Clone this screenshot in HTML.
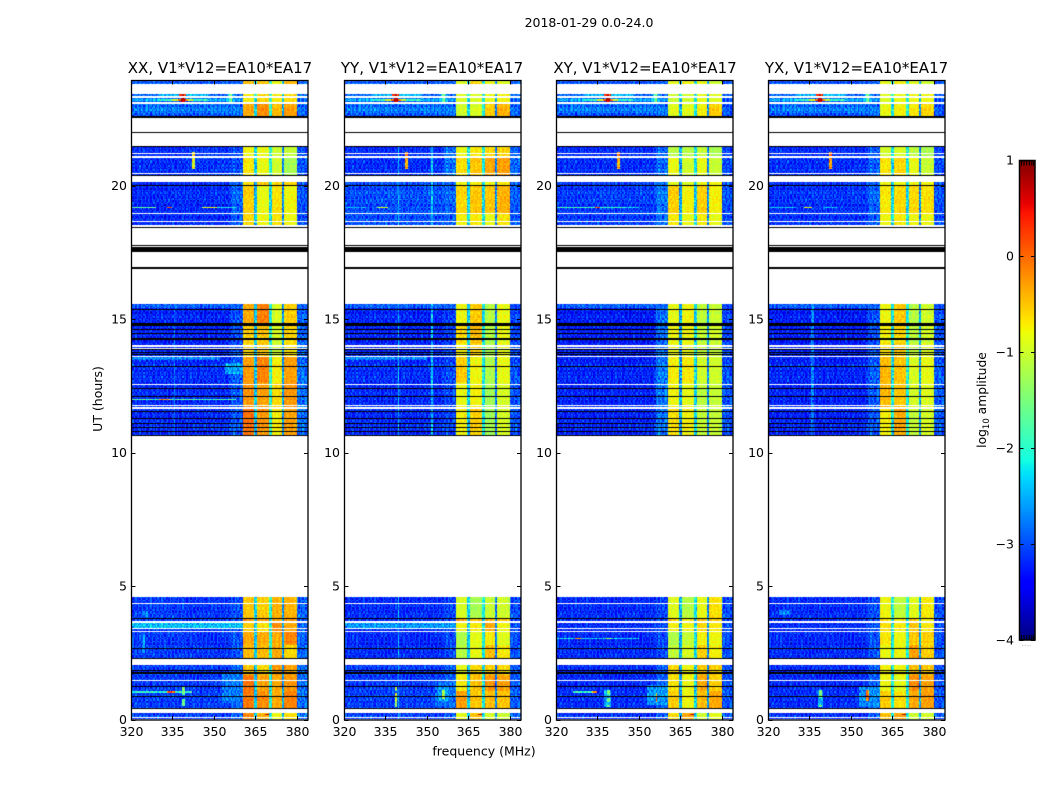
<!DOCTYPE html>
<html>
<head>
<meta charset="utf-8">
<title>2018-01-29 0.0-24.0</title>
<style>
html,body{margin:0;padding:0;background:#fff;width:1050px;height:800px;overflow:hidden}
canvas{position:absolute;display:block}
svg{position:absolute;left:0;top:0}
text{font-family:"DejaVu Sans",sans-serif;fill:#000}
</style>
</head>
<body>
<canvas id="c0" width="177" height="640" style="left:131px;top:80px"></canvas>
<canvas id="c1" width="177" height="640" style="left:344px;top:80px"></canvas>
<canvas id="c2" width="177" height="640" style="left:556px;top:80px"></canvas>
<canvas id="c3" width="177" height="640" style="left:768px;top:80px"></canvas>
<canvas id="cb" width="16" height="480" style="left:1019px;top:160px"></canvas>
<svg id="chart" width="1050" height="800" viewBox="0 0 1050 800">
  <text x="589" y="27" text-anchor="middle" font-size="12.5">2018-01-29 0.0-24.0</text>
  <text x="484" y="755.5" text-anchor="middle" font-size="12.5">frequency (MHz)</text>
  <text transform="translate(102,399) rotate(-90)" text-anchor="middle" font-size="12.5">UT (hours)</text>
  <text transform="translate(986,400) rotate(-90)" text-anchor="middle" font-size="12.3">log<tspan font-size="8.5" dy="3">10</tspan><tspan dy="-3"> amplitude</tspan></text>
  <text x="1026.5" y="646" text-anchor="middle" font-size="5" style="fill:#777">......</text>
</svg>
<script>
// ---------- chart data ----------
const panelTitles = ['XX, V1*V12=EA10*EA17','YY, V1*V12=EA10*EA17','XY, V1*V12=EA10*EA17','YX, V1*V12=EA10*EA17'];
const xTicks = [320,335,350,365,380];
const yTicks = [0,5,10,15,20];
const colorTicks = [1,0,-1,-2,-3,-4];
const colorMinorOffsets = [2,4.5,7.2,10,12.3,14];

// Frequency column edges (MHz): low 0,1,2 | band1 | notch1 | band2 | notch2 | band3 | notch3 | band4 | edge
const freqEdges = [320,340,356,360.4,364.75,365.7,369.9,370.8,374.75,375.7,379.8,384];
// Time blocks (upper UT) for low-band and notch level tables
const blockEnds = [2.1,5,13.3,16,20.2,22,24];
// Per block: [low0, low1, low2, notch1, notch2, notch3, edge]
const levelsXX = [
 [-3.1,-3.1,-2.9,-2.4,-2.1,-2.6,-2.85],
 [-3.1,-3.15,-3.0,-2.4,-2.1,-2.6,-2.9],
 [-3.2,-3.2,-2.95,-2.4,-2.0,-2.6,-2.85],
 [-3.25,-3.25,-3.0,-2.4,-2.1,-2.7,-2.9],
 [-3.2,-3.2,-2.9,-2.5,-2.2,-2.7,-3.0],
 [-3.2,-3.15,-3.05,-2.4,-2.1,-2.7,-3.0],
 [-2.95,-2.95,-2.9,-2.3,-2.0,-2.5,-2.85]
];
const levelsYY = [
 [-3.1,-3.1,-2.95,-2.4,-2.2,-2.8,-2.95],
 [-3.2,-3.2,-3.05,-2.4,-2.2,-2.8,-3.0],
 [-3.2,-3.2,-3.05,-2.4,-2.2,-2.8,-3.0],
 [-3.25,-3.25,-3.1,-2.4,-2.2,-2.8,-3.05],
 [-3.0,-3.0,-2.9,-2.3,-2.2,-2.7,-2.95],
 [-3.2,-3.2,-2.85,-2.3,-2.2,-2.7,-2.9],
 [-2.95,-2.95,-2.9,-2.3,-2.1,-2.7,-2.85]
];
const levelsXY = [
 [-3.2,-3.2,-2.95,-2.6,-2.3,-2.7,-3.0],
 [-3.2,-3.2,-3.05,-2.6,-2.3,-2.7,-3.0],
 [-3.25,-3.25,-2.8,-2.6,-2.3,-2.7,-3.0],
 [-3.3,-3.3,-2.85,-2.6,-2.3,-2.7,-3.05],
 [-3.1,-3.1,-2.8,-2.6,-2.3,-2.7,-3.0],
 [-3.2,-3.2,-2.9,-2.6,-2.3,-2.7,-3.05],
 [-3.0,-3.0,-2.9,-2.5,-2.2,-2.6,-2.95]
];
const levelsYX = [
 [-3.2,-3.2,-2.95,-2.2,-2.1,-2.6,-3.0],
 [-3.2,-3.2,-3.0,-2.2,-2.1,-2.6,-3.0],
 [-3.25,-3.25,-2.95,-2.2,-2.1,-2.6,-2.95],
 [-3.3,-3.3,-3.0,-2.2,-2.1,-2.6,-3.0],
 [-3.15,-3.15,-2.9,-2.3,-2.2,-2.7,-3.0],
 [-3.2,-3.2,-2.95,-2.3,-2.2,-2.7,-3.05],
 [-3.0,-3.0,-2.9,-2.2,-2.1,-2.6,-2.95]
];
const panelLevels = [levelsXX, levelsYY, levelsXY, levelsYX];

// Upper UT of each epoch, used by the four-band tables below
const bandEpochEnds = [0.42,1.03,1.67,2.1,2.79,3.31,3.70,3.79,5,11.7,12.6,13.6,14.1,14.85,16,18.96,20,20.3,21.07,22,23.08,23.5,24];
// Per epoch: log amplitude of bright bands 1..4
const bandsXX = [
 [-0.2,-0.4,-0.8,-0.65],[-0.1,-0.2,-0.35,-0.15],[-0.05,-0.3,-0.35,-0.25],[-0.5,-0.6,-0.25,-0.3],
 [-0.45,-0.45,-0.35,-0.6],[-0.35,-0.35,-0.35,-0.15],[-0.55,-0.65,-0.2,-0.35],[-0.2,-0.3,-0.3,-0.2],[-0.5,-0.55,-0.4,-0.4],
 [-0.05,-0.25,-0.7,-0.3],[-0.25,-0.3,-0.6,-0.25],[-0.3,-0.15,-0.75,-0.3],[-0.6,-0.55,-1.0,-0.65],[-0.55,-0.5,-0.95,-0.6],[-0.35,-0.1,-0.95,-0.55],
 [-0.6,-0.8,-0.65,-0.8],[-0.55,-0.85,-0.65,-0.8],[-0.65,-0.5,-0.6,-0.6],
 [-0.7,-0.85,-1.0,-1.25],[-0.8,-0.85,-1.0,-1.05],
 [-0.35,-0.2,-0.45,-0.3],[-0.75,-0.6,-0.7,-0.6],[-0.45,-0.5,-0.8,-0.4]
];
const bandsYY = [
 [-0.9,-0.5,-0.95,-1.05],[-0.3,-0.5,-0.45,-0.5],[-0.7,-0.45,-0.25,-0.3],[-0.85,-0.6,-0.55,-0.6],
 [-1.15,-0.85,-0.45,-0.7],[-1.2,-0.85,-0.7,-0.9],[-0.8,-0.7,-0.35,-0.8],[-0.25,-0.5,-0.4,-0.45],[-0.95,-1.25,-1.05,-1.0],
 [-0.75,-0.55,-1.25,-0.95],[-0.85,-0.75,-1.25,-0.95],[-0.55,-0.8,-1.2,-0.85],[-0.75,-0.6,-1.2,-0.85],[-0.6,-0.45,-1.15,-0.85],[-0.8,-0.5,-1.15,-0.85],
 [-0.75,-0.7,-0.85,-0.65],[-0.6,-0.5,-0.5,-0.4],[-0.8,-0.7,-0.8,-0.7],
 [-0.65,-0.5,-0.35,-0.3],[-0.85,-0.7,-0.6,-0.55],
 [-1.0,-0.95,-0.55,-0.4],[-0.95,-0.95,-0.85,-0.75],[-0.9,-0.6,-0.8,-0.9]
];
const bandsXY = [
 [-0.65,-0.35,-1.0,-0.9],[-0.55,-0.8,-0.45,-0.35],[-0.65,-0.8,-0.35,-0.55],[-0.6,-0.8,-0.5,-0.55],
 [-1.1,-0.95,-0.55,-0.75],[-1.2,-1.05,-0.75,-0.8],[-0.75,-0.8,-0.6,-0.7],[-0.5,-0.7,-0.45,-0.5],[-0.9,-1.15,-0.85,-0.65],
 [-0.65,-0.75,-1.05,-1.05],[-0.8,-0.85,-1.1,-1.05],[-0.75,-0.7,-1.0,-1.0],[-0.85,-0.85,-1.05,-1.05],[-0.8,-0.8,-1.05,-1.0],[-0.85,-0.75,-1.1,-1.05],
 [-0.7,-0.85,-0.7,-0.85],[-0.55,-0.75,-0.55,-0.75],[-0.9,-0.9,-0.8,-0.8],
 [-0.85,-1.0,-0.85,-1.05],[-1.15,-1.15,-1.05,-1.2],
 [-0.9,-0.9,-0.75,-0.55],[-1.05,-1.0,-0.85,-0.9],[-0.85,-0.8,-0.8,-1.0]
];
const bandsYX = [
 [-0.5,-0.35,-1.0,-1.0],[-0.55,-0.65,-0.35,-0.3],[-0.8,-0.85,-0.2,-0.3],[-0.75,-0.8,-0.45,-0.5],
 [-0.85,-0.8,-0.3,-0.55],[-0.7,-0.8,-0.5,-0.55],[-0.65,-0.7,-0.5,-0.7],[-0.6,-0.7,-0.5,-0.7],[-0.8,-1.1,-0.9,-0.7],
 [-0.75,-0.35,-1.05,-0.95],[-0.45,-0.5,-0.95,-0.9],[-0.45,-0.5,-0.95,-0.85],[-0.65,-0.55,-1.05,-0.9],[-0.75,-0.6,-1.1,-1.0],[-0.8,-0.5,-1.15,-1.0],
 [-0.8,-0.7,-0.8,-0.8],[-0.7,-0.6,-0.6,-0.65],[-0.8,-0.8,-0.8,-0.8],
 [-0.7,-0.6,-0.85,-1.05],[-1.0,-0.95,-1.1,-1.2],
 [-0.85,-0.75,-0.7,-0.6],[-0.95,-0.85,-0.8,-0.8],[-0.85,-0.75,-0.85,-1.0]
];
const panelBands = [bandsXX, bandsYY, bandsXY, bandsYX];

// UT spans that contain data; everything else stays white
const dataSpans = [
 [0.02,0.07],[0.10,0.24],[0.40,1.44],[1.48,2.04],[2.27,3.29],[3.33,3.39],[3.44,3.63],[3.70,4.33],[4.35,4.51],[4.54,4.58],
 [10.64,11.64],[11.71,11.74],[11.78,12.52],[12.55,13.57],[13.61,13.89],[13.94,13.96],[14.01,15.56],
 [18.51,18.64],[18.68,18.73],[18.77,18.93],[18.96,19.97],[20.03,20.13],[20.38,20.42],[20.46,21.04],[21.10,21.18],[21.24,21.43],
 [22.60,22.70],[22.73,23.04],[23.13,23.28],[23.35,23.43],[23.84,23.91]
];
// Fully flagged rows drawn black (UT start, end)
const blackRows = [
 [0.40,0.44],[0.84,0.88],[1.22,1.25],[1.70,1.73],[1.77,1.79],[1.82,1.85],[2.29,2.31],[2.63,2.67],[3.75,3.79],
 [10.62,10.66],[10.76,10.80],[10.92,10.96],[11.05,11.09],[11.27,11.31],[11.50,11.54],[12.07,12.11],[12.36,12.40],[13.21,13.25],
 [13.66,13.70],[13.74,13.78],[13.82,13.86],[14.24,14.30],[14.44,14.48],[14.59,14.63],[14.72,14.76],[14.78,14.84],[15.34,15.38],
 [16.88,16.94],[17.52,17.71],[17.75,17.77],[18.43,18.46],[19.99,20.03],[20.33,20.38],[21.43,21.47],[21.98,22.00],[22.54,22.60]
];

// Interference and local features: [f start, f end, UT start, UT end, log amplitude]
const rfiCommon = [
 [320,360.4,23.35,23.43,-2.95],[330,348,23.35,23.43,-2.5],[337.5,340,23.36,23.42,0.4],
 [320,360.4,23.13,23.28,-2.85],[320,360.4,23.17,23.23,-2.5],[330,348,23.17,23.23,-1.9],[335,342.5,23.17,23.23,-0.9],[337,340.5,23.17,23.23,0.1],[338.2,339.4,23.13,23.28,0.8],
 [338.4,339.2,22.75,23.13,-2.2],[355,357.5,23.13,23.43,-2.5],[355.7,356.3,23.13,23.43,-1.5],
 [320,360.4,22.73,23.04,-2.8],[320,360.4,15.4,15.56,-2.9],[368.3,370,0.15,0.2,0.8]
];
const rfiXX = [
 [320,329,19.15,19.2,-1.7],[333,335,19.15,19.2,0.1],[345.6,351,19.15,19.2,-1.0],[351,358,19.15,19.2,-2.2],
 [342.2,342.8,20.6,21.25,-0.8],[320,358,11.95,12.0,-1.8],[330,334,11.95,12.0,-0.4],
 [320,360.4,3.44,3.63,-2.45],[320,352,13.46,13.57,-2.75],
 [320,342,1.0,1.05,-2.0],[333,336,1.0,1.05,0.1],[338.6,339.4,0.9,1.2,-1.6],[338.6,339.4,0.5,0.75,-1.6],[355.9,356.6,0.9,1.2,-0.4],
 [353,360.4,0.6,1.7,-2.8],[354,360.4,12.95,13.35,-2.6],[335.5,336,10.64,15.56,-2.8],
 [324.2,325,2.5,3.2,-2.7],[324,326,3.85,4.05,-2.75]
];
const rfiYY = [
 [320,328,19.15,19.2,-2.5],[332,336,19.15,19.2,-1.0],[342.2,342.8,20.6,21.25,-0.3],
 [339.6,340.2,0,5,-2.5],[339.6,340.2,10,21.5,-2.4],[351.6,352.2,10,21.5,-2.4],
 [320,360.4,3.44,3.63,-2.65],[320,350,13.46,13.57,-2.75],
 [338.6,339.2,1.03,1.23,-1.4],[338.6,339.2,0.7,1.0,-0.8],[338.6,339.2,0.44,0.7,-1.4],
 [353,360.4,0.44,1.4,-2.85],[354,358,0.66,1.18,-2.6],[355.6,356.4,0.75,1.1,-1.3]
];
const rfiXY = [
 [320,345,19.15,19.2,-1.9],[334,336,19.15,19.2,0.1],[345,350,19.15,19.2,-2.4],[342.2,342.8,20.6,21.25,-0.3],
 [320,350,3.0,3.05,-2.3],[327,329,3.0,3.05,-0.4],[338,340,3.0,3.05,-1.2],
 [337.5,340,0.43,1.1,-2.55],[338.5,339.5,0.9,1.1,-1.5],[338.5,339.5,0.65,0.8,-1.5],[338.5,339.5,0.44,0.55,-1.5],
 [326,335,1.0,1.05,-1.9],[333,335,1.0,1.05,-0.3],[353,360.4,0.55,1.3,-2.65],[355.9,356.5,0.66,1.0,-0.3]
];
const rfiYX = [
 [320,330,19.15,19.2,-2.4],[333,336,19.15,19.2,-0.9],[340,345,19.15,19.2,-2.4],[342.2,342.8,20.6,21.25,-0.2],
 [335.7,336.3,10.64,15.56,-2.75],[337.8,340,0.43,1.1,-2.55],[338.4,339.4,0.43,0.55,-1.5],[338.4,339.4,0.8,1.1,-1.5],
 [353,360.4,0.44,1.25,-2.7],[355.7,356.5,0.7,1.1,-0.2],[324,328,3.9,4.1,-2.75]
];
const panelRfi = [rfiXX, rfiYY, rfiXY, rfiYX];

// Hand-estimated speckle (log-amplitude deviations) and per-row drifts
const grain = [0.18,-0.31,0.05,-0.12,0.34,-0.42,0.09,0.22,-0.06,-0.27,0.41,-0.15,0.02,0.28,-0.36,0.12,-0.2,0.07,0.31,-0.48,0.16,-0.03,-0.24,0.37,0.1,-0.33,0.2,-0.09,0.26,-0.18,-0.39,0.04,0.3,-0.11,0.14,-0.29,0.45,-0.05,-0.22,0.11,0.24,-0.44,0.08,0.33,-0.14,-0.01,0.19,-0.35,0.27,-0.07,-0.25,0.39,-0.17];
const rowShift = [3,29,11,47,19,5,37,23,41,13,31,7,50,17,43,2,26,35,9,46,21,15,39,28,6,33,44,12,24,49,18];
const rowDrift = [0.03,-0.05,0.08,0,-0.09,0.05,0.02,-0.03,0.1,-0.07,0.01,0.06,-0.04,-0.1,0.07,0.03,-0.02,0.12,-0.06,0,0.04,-0.08,0.09,-0.01,0.05,-0.12,0.02,0.06,-0.05,0.03,-0.03];

// ---------- scales ----------
const panelLeft = [131,344,556,768];
const plotW = 177, plotTop = 80.5, plotBottom = 720;
function xOf(p,f){ return panelLeft[p] + (f-320)/64*plotW; }
function yOf(t){ return 719.5 - 26.7*t; }
function lerpTable(tab,x){
  for(let i=1;i<tab.length;i++){
    if(x<=tab[i][0]){ const a=tab[i-1],b=tab[i]; return a[1]+(b[1]-a[1])*(x-a[0])/(b[0]-a[0]); }
  }
  return tab[tab.length-1][1];
}
const jetR=[[0,0],[.35,0],[.66,1],[.89,1],[1,.5]];
const jetG=[[0,0],[.125,0],[.375,1],[.64,1],[.91,0],[1,0]];
const jetB=[[0,.5],[.11,1],[.34,1],[.65,0],[1,0]];
function colorOf(v){
  const s=Math.max(0,Math.min(1,(v+4)/5));
  return 'rgb('+Math.round(255*lerpTable(jetR,s))+','+Math.round(255*lerpTable(jetG,s))+','+Math.round(255*lerpTable(jetB,s))+')';
}

// ---------- heatmaps ----------
const dt = 0.05, df = 0.5;
const blockColumn = {0:0,1:1,2:2,4:3,6:4,8:5,10:6};
const bandColumn = {3:0,5:1,7:2,9:3};
function columnOf(f){ for(let c=0;c<freqEdges.length-1;c++){ if(f<freqEdges[c+1]) return c; } return freqEdges.length-2; }
function indexOf(ends,t){ for(let b=0;b<ends.length;b++){ if(t<ends[b]) return b; } return ends.length-1; }
function cellValue(p,f,t,r,ch){
  const c=columnOf(f);
  const isBand=(c in bandColumn);
  let v=isBand ? panelBands[p][indexOf(bandEpochEnds,t)][bandColumn[c]]
               : panelLevels[p][indexOf(blockEnds,t)][blockColumn[c]];
  const lists=[rfiCommon,panelRfi[p]];
  for(const list of lists){ for(const q of list){ if(f>=q[0]&&f<q[1]&&t>=q[2]&&t<q[3]) v=q[4]; } }
  const k=rowShift[r%rowShift.length]+ch+r*3;
  const g=grain[k%grain.length];
  const d=rowDrift[r%rowDrift.length];
  return v+(isBand?g*0.45+d*0.5:g+d);
}
for(let p=0;p<4;p++){
  const ctx=document.getElementById('c'+p).getContext('2d');
  ctx.translate(-panelLeft[p],-80);
  for(const span of dataSpans){
    const r0=Math.floor(span[0]/dt+1e-6), r1=Math.ceil(span[1]/dt-1e-6);
    for(let r=r0;r<r1;r++){
      const t0=Math.max(span[0],r*dt), t1=Math.min(span[1],(r+1)*dt);
      const yTop=Math.round(yOf(t1));
      const h=Math.max(1,Math.round(yOf(t0))-yTop);
      const tm=(t0+t1)/2;
      for(let ch=0;ch<128;ch++){
        const f=320+ch*df;
        const xa=Math.round(xOf(p,f)), xb=Math.round(xOf(p,f+df));
        ctx.fillStyle=colorOf(cellValue(p,f+df/2,tm,r,ch));
        ctx.fillRect(xa,yTop,xb-xa,h);
      }
    }
  }
  ctx.fillStyle='#000';
  for(const row of blackRows){
    ctx.fillRect(panelLeft[p],Math.round(yOf(row[1])),plotW,Math.max(1,Math.round((row[1]-row[0])*26.7)));
  }
}

// ---------- colorbar ----------
const cbCtx=document.getElementById('cb').getContext('2d');
for(let i=0;i<480;i++){
  cbCtx.fillStyle=colorOf(1-(i+0.5)/480*5);
  cbCtx.fillRect(0,i,16,1);
}

// ---------- axes ----------
const svg=document.getElementById('chart');
const NS='http://www.w3.org/2000/svg';
function addLine(x1,y1,x2,y2,name){
  const l=document.createElementNS(NS,'line');
  l.setAttribute('x1',x1);l.setAttribute('y1',y1);l.setAttribute('x2',x2);l.setAttribute('y2',y2);
  l.setAttribute('stroke','#000');l.setAttribute('stroke-width','1');
  
  
  svg.appendChild(l);
}
function addText(x,y,str,anchor,size,name){
  const t=document.createElementNS(NS,'text');
  t.setAttribute('x',x);t.setAttribute('y',y);t.setAttribute('text-anchor',anchor);t.setAttribute('font-size',size);
  t.textContent=str;
  
  
  svg.appendChild(t);
}
function addFrame(x,y,w,h,sw,name){
  const r=document.createElementNS(NS,'rect');
  r.setAttribute('x',x);r.setAttribute('y',y);r.setAttribute('width',w);r.setAttribute('height',h);
  r.setAttribute('fill','none');r.setAttribute('stroke','#000');r.setAttribute('stroke-width',sw);
  
  
  svg.appendChild(r);
}
const titleCenters=[220,432,645,856.5];
for(let p=0;p<4;p++){
  const L=panelLeft[p]+0.5, R=panelLeft[p]+plotW;
  addFrame(L,plotTop,plotW-0.5,plotBottom-plotTop,1.3,'panel-frame');
  addText(titleCenters[p],73,panelTitles[p],'middle',15,'panel-title');
  for(const f of xTicks){
    const x=Math.round(xOf(p,f))+0.5;
    addLine(x,plotBottom,x,plotBottom-4,'x-tick');
    addLine(x,plotTop,x,plotTop+4,'x-tick');
    addText(x,736,String(f),'middle',12.5,'x-tick-label');
  }
  for(const t of yTicks){
    const y=Math.round(yOf(t))+0.5;
    addLine(L,y,L+4,y,'y-tick');
    addLine(R,y,R-4,y,'y-tick');
    addText(panelLeft[p]-4,yOf(t)+4.5,String(t),'end',12.5,'y-tick-label');
  }
}
addFrame(1019.5,160.5,15.5,479.5,1.5,'colorbar-frame');
for(const v of colorTicks){
  const y=Math.round(160+(1-v)/5*480)+0.5;
  addLine(1019.5,y,1023.5,y,'colorbar-tick');
  addLine(1035,y,1031,y,'colorbar-tick');
  addText(1014,y+4,String(v).replace('-','\u2212'),'end',12.5,'colorbar-tick-label');
}
for(const o of colorMinorOffsets){
  const x=1019.5+o;
  addLine(x,160.5,x,165.5,'colorbar-minor-tick');
  addLine(x,640,x,635,'colorbar-minor-tick');
}
</script>
</body>
</html>
